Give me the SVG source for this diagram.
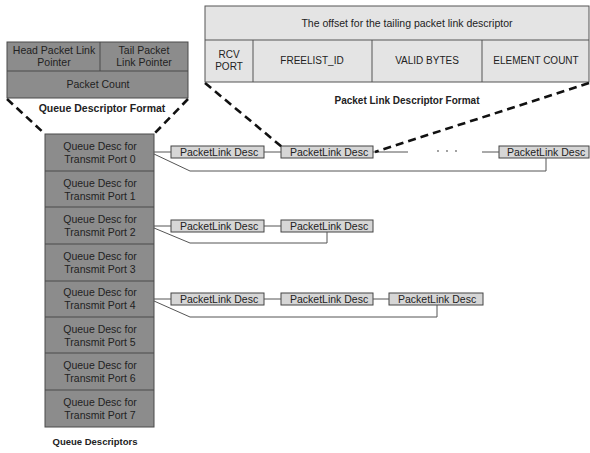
<svg xmlns="http://www.w3.org/2000/svg" width="590" height="453" viewBox="0 0 590 453">
  <style>
    text { font-family: "Liberation Sans", Arial, sans-serif; fill: #222; }
    .dark { fill: #8c8c8c; stroke: #4a4a4a; stroke-width: 1; }
    .light { fill: #e4e4e4; stroke: #555; stroke-width: 1; }
    .pkt { fill: #d6d6d6; stroke: #444; stroke-width: 1; }
    .q { font-size: 10.5px; text-anchor: middle; }
    .f { font-size: 10px; text-anchor: middle; }
    .p { font-size: 10.5px; }
    .cap { font-size: 10px; font-weight: bold; text-anchor: middle; }
    .link { fill: none; stroke: #555; stroke-width: 1; }
    .zoom { fill: none; stroke: #111; stroke-width: 2.6; stroke-dasharray: 8 5; }
  </style>

  <!-- Queue descriptor format -->
  <g id="queue-descriptor-format">
    <rect class="dark" x="7" y="42" width="181" height="56"/>
    <line x1="7" y1="71" x2="188" y2="71" stroke="#4a4a4a"/>
    <line x1="100" y1="42" x2="100" y2="71" stroke="#4a4a4a"/>
    <text class="q" x="54" y="54">Head Packet Link</text>
    <text class="q" x="54" y="66">Pointer</text>
    <text class="q" x="144" y="54">Tail Packet</text>
    <text class="q" x="144" y="66">Link Pointer</text>
    <text class="q" x="98" y="88">Packet Count</text>
    <text class="cap" x="102" y="112" style="font-size:10.5px">Queue Descriptor Format</text>
  </g>

  <!-- Packet link descriptor format -->
  <g id="packet-link-descriptor-format">
    <rect class="light" x="205" y="6" width="384" height="76"/>
    <line x1="205" y1="40" x2="589" y2="40" stroke="#555"/>
    <line x1="253" y1="40" x2="253" y2="82" stroke="#555"/>
    <line x1="372" y1="40" x2="372" y2="82" stroke="#555"/>
    <line x1="482" y1="40" x2="482" y2="82" stroke="#555"/>
    <text class="f" x="407" y="27" style="font-size:10.5px">The offset for the tailing packet link descriptor</text>
    <text class="f" x="229" y="58">RCV</text>
    <text class="f" x="229" y="70">PORT</text>
    <text class="f" x="312" y="64">FREELIST_ID</text>
    <text class="f" x="427" y="64">VALID BYTES</text>
    <text class="f" x="536" y="64">ELEMENT COUNT</text>
    <text class="cap" x="407" y="104">Packet Link Descriptor Format</text>
  </g>

  <!-- Queue descriptors for the eight transmit ports -->
  <g id="queue-descriptors">
    <rect class="dark" x="45" y="134" width="109" height="293"/>
    <g stroke="#4a4a4a">
      <line x1="45" y1="171" x2="154" y2="171"/>
      <line x1="45" y1="207" x2="154" y2="207"/>
      <line x1="45" y1="244" x2="154" y2="244"/>
      <line x1="45" y1="281" x2="154" y2="281"/>
      <line x1="45" y1="317" x2="154" y2="317"/>
      <line x1="45" y1="353" x2="154" y2="353"/>
      <line x1="45" y1="390" x2="154" y2="390"/>
    </g>
    <g id="qd0"><text class="q" x="100" y="150">Queue Desc for</text><text class="q" x="100" y="163">Transmit Port 0</text></g>
    <g id="qd1"><text class="q" x="100" y="187">Queue Desc for</text><text class="q" x="100" y="200">Transmit Port 1</text></g>
    <g id="qd2"><text class="q" x="100" y="223">Queue Desc for</text><text class="q" x="100" y="236">Transmit Port 2</text></g>
    <g id="qd3"><text class="q" x="100" y="260">Queue Desc for</text><text class="q" x="100" y="273">Transmit Port 3</text></g>
    <g id="qd4"><text class="q" x="100" y="296">Queue Desc for</text><text class="q" x="100" y="309">Transmit Port 4</text></g>
    <g id="qd5"><text class="q" x="100" y="333">Queue Desc for</text><text class="q" x="100" y="346">Transmit Port 5</text></g>
    <g id="qd6"><text class="q" x="100" y="369">Queue Desc for</text><text class="q" x="100" y="382">Transmit Port 6</text></g>
    <g id="qd7"><text class="q" x="100" y="406">Queue Desc for</text><text class="q" x="100" y="419">Transmit Port 7</text></g>
    <text class="cap" x="95" y="445" style="font-size:9.5px">Queue Descriptors</text>
  </g>

  <!-- Packet link descriptor chains -->
  <g id="pl-0-0"><rect class="pkt" x="171" y="146" width="93" height="12"/><text class="p" x="180" y="156">PacketLink Desc</text></g>
  <g id="pl-0-1"><rect class="pkt" x="281" y="146" width="92" height="12"/><text class="p" x="290" y="156">PacketLink Desc</text></g>
  <g id="pl-0-n"><rect class="pkt" x="499" y="146" width="90" height="12"/><text class="p" x="507" y="156">PacketLink Desc</text></g>
  <!-- ellipsis between chain elements -->
  <g id="ellipsis" fill="#777">
    <circle cx="438" cy="151" r="0.9"/>
    <circle cx="447" cy="151" r="0.9"/>
    <circle cx="456" cy="151" r="0.9"/>
  </g>

  <g id="pl-2-0"><rect class="pkt" x="171" y="220" width="93" height="12"/><text class="p" x="180" y="230">PacketLink Desc</text></g>
  <g id="pl-2-1"><rect class="pkt" x="281" y="220" width="92" height="12"/><text class="p" x="290" y="230">PacketLink Desc</text></g>

  <g id="pl-4-0"><rect class="pkt" x="171" y="293" width="93" height="12"/><text class="p" x="180" y="303">PacketLink Desc</text></g>
  <g id="pl-4-1"><rect class="pkt" x="281" y="293" width="92" height="12"/><text class="p" x="290" y="303">PacketLink Desc</text></g>
  <g id="pl-4-2"><rect class="pkt" x="389" y="293" width="94" height="12"/><text class="p" x="398" y="303">PacketLink Desc</text></g>

  <!-- Connectors: head/next links and tail pointers -->
  <g id="connectors">
    <path class="link" d="M154 152 H171 M264 152 H281 M373 152 H408 M482 152 H499"/>
    <path class="link" d="M154 154 L190 171 H546 V158"/>
    <path class="link" d="M154 226 H171 M264 226 H281"/>
    <path class="link" d="M154 228 L190 243 H327 V232"/>
    <path class="link" d="M154 299 H171 M264 299 H281 M373 299 H389"/>
    <path class="link" d="M154 301 L190 317 H437 V305"/>

    <!-- dashed expansion lines to the format boxes -->
    <line class="zoom" x1="7" y1="99" x2="45" y2="134"/>
    <line class="zoom" x1="188" y1="99" x2="154" y2="134"/>
    <line class="zoom" x1="205" y1="83" x2="282" y2="147"/>
    <line class="zoom" x1="589" y1="83" x2="375" y2="152"/>
  </g>
</svg>
